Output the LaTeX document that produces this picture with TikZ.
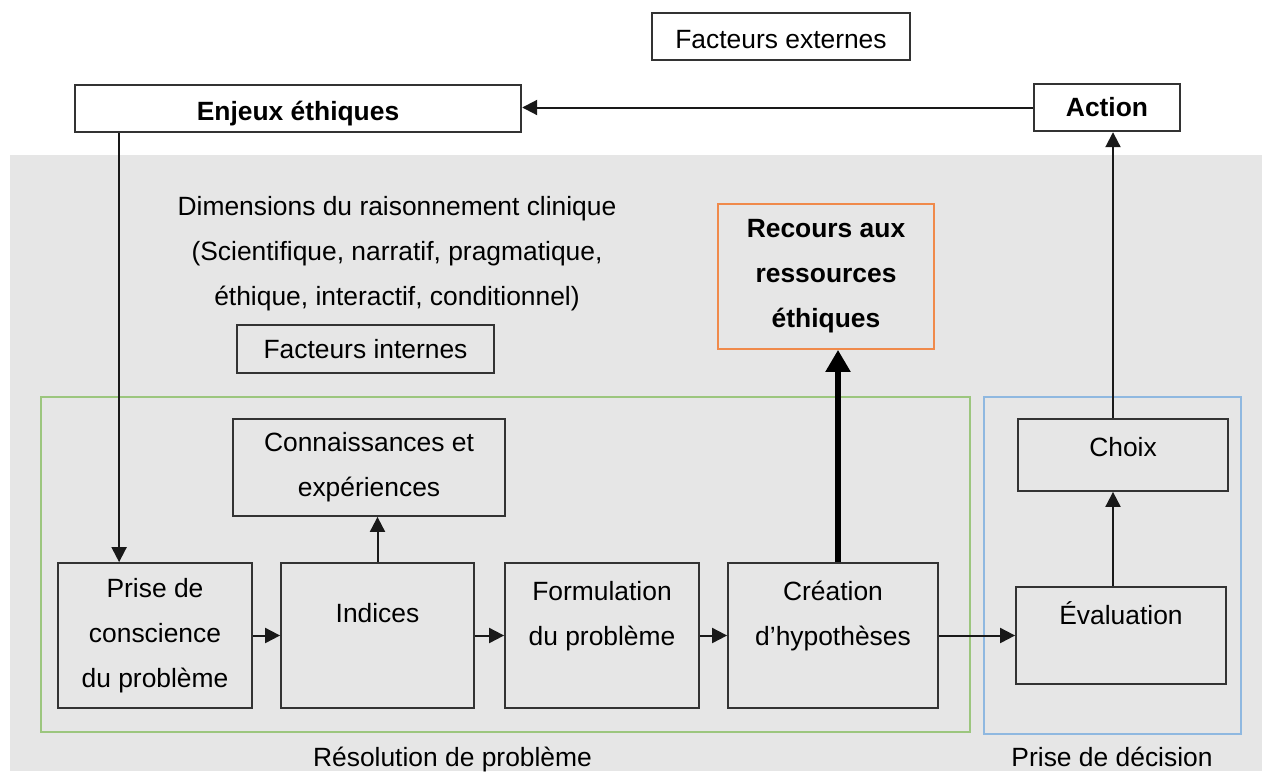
\documentclass[tikz,border=0pt]{standalone}
\usepackage{fontspec}
\setmainfont{Liberation Sans}
\usetikzlibrary{arrows.meta,calc}
\definecolor{bggray}{HTML}{E6E6E6}
\definecolor{lnc}{HTML}{333333}
\definecolor{orng}{HTML}{F08A4B}
\definecolor{grn}{HTML}{9CC67E}
\definecolor{blu}{HTML}{8FB8E0}
\newcommand\myfs{\fontsize{13.2pt}{22.5pt}\selectfont}
\tikzset{
 box/.style={draw=lnc, line width=0.9pt, fill=bggray, align=center, inner sep=0pt, font=\myfs},
 wbox/.style={box, fill=white, line width=1.2pt},
 lowtxt/.style={text height=13pt, text depth=1pt},
 boldtxt/.style={font=\myfs\bfseries},
 txt/.style={align=center, inner sep=0pt, font=\myfs},
 arr/.style={draw=black!90, line width=1pt, -{Triangle[length=7.5pt,width=7.5pt]}},
 bigarr/.style={draw=black, line width=2.6pt, -{Triangle[length=11pt,width=12pt]}},
}
\begin{document}
\begin{tikzpicture}[x=0.5pt,y=-0.5pt]
\useasboundingbox (0,0) rectangle (1262,771);
\fill[bggray] (10,155) rectangle (1262,771);
\draw[grn, line width=1pt] (41,397) rectangle (970,732);
\draw[blu, line width=1pt] (984,397) rectangle (1241,734);

\node[wbox, lowtxt, minimum width=129pt, minimum height=23.5pt] (ext) at (781,36.5) {Facteurs externes};
\node[wbox, boldtxt, lowtxt, minimum width=223pt, minimum height=23.5pt] (enj) at (298,108.5) {Enjeux éthiques};
\node[wbox, boldtxt, minimum width=73pt, minimum height=23.5pt] (act) at (1107,107.5) {Action};

\node[txt] (dim) at (397,254) {Dimensions du raisonnement clinique\\(Scientifique, narratif, pragmatique,\\éthique, interactif, conditionnel)};
\node[box, minimum width=128.5pt, minimum height=24pt] (fint) at (365.5,349) {Facteurs internes};
\node[box, boldtxt, draw=orng, minimum width=108pt, minimum height=72.5pt] (rec) at (826,276.5) {Recours aux\\ressources\\éthiques};

\node[box, minimum width=136pt, minimum height=48.5pt] (con) at (369,467.5) {Connaissances et\\expériences};
\node[box, minimum width=97pt, minimum height=72.5pt] (prise) at (155,635.5) {Prise de\\conscience\\du problème};
\node[box, minimum width=96.5pt, minimum height=72.5pt] (ind) at (377.5,635.5) {Indices\\\mbox{}};
\node[box, minimum width=97pt, minimum height=72.5pt] (form) at (602,635.5) {Formulation\\du problème\\\mbox{}};
\node[box, minimum width=105pt, minimum height=72.5pt] (crea) at (833,635.5) {Création\\d’hypothèses\\\mbox{}};
\node[box, minimum width=105pt, minimum height=36pt] (choix) at (1123,455) {\raisebox{8pt}{Choix}};
\node[box, minimum width=105pt, minimum height=48.5pt] (eval) at (1121,635.5) {Évaluation\\\mbox{}};

\node[txt, anchor=base] (lres) at (452.5,766) {Résolution de problème};
\node[txt, anchor=base] (ldec) at (1112,766) {Prise de décision};

\coordinate (pin) at ([xshift=31pt]prise.north west);
\draw[arr] (act.west) -- (act.west -| enj.east);
\draw[arr] (enj.south -| pin) -- (pin);
\draw[arr] (prise.east) -- (ind.west);
\draw[arr] (ind.east) -- (form.west);
\draw[arr] (form.east) -- (crea.west);
\draw[arr] (crea.east) -- (eval.west);
\draw[arr] (ind.north) -- (ind.north |- con.south);
\draw[bigarr] ([xshift=2.5pt]crea.north) -- ([xshift=2.5pt]crea.north |- rec.south);
\draw[arr] ([xshift=-4pt]eval.north) -- ([xshift=-4pt]eval.north |- choix.south);
\draw[arr] ([xshift=-5pt]choix.north) -- ([xshift=-5pt]choix.north |- act.south);
\end{tikzpicture}
\end{document}
